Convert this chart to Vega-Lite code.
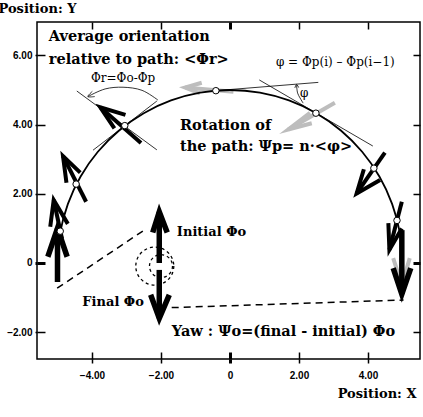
{
  "$schema": "https://vega.github.io/schema/vega-lite/v6.json",
  "width": 383,
  "height": 337,
  "autosize": {"type": "none"},
  "padding": {"left": 37, "top": 22, "right": 3, "bottom": 58},
  "background": "white",
  "config": {
    "view": {"stroke": "black", "strokeWidth": 1.5},
    "axis": {"grid": false, "domain": false, "tickColor": "black", "tickWidth": {"condition": {"test": "datum.value === 0", "value": 3}, "value": 1.5}}
  },
  "datasets": {
    "curve": [
      {"k": 0, "x": -5.0, "y": 0.0},
      {"k": 1, "x": -4.924, "y": 0.868},
      {"k": 2, "x": -4.698, "y": 1.71},
      {"k": 3, "x": -4.33, "y": 2.5},
      {"k": 4, "x": -3.83, "y": 3.214},
      {"k": 5, "x": -3.214, "y": 3.83},
      {"k": 6, "x": -2.5, "y": 4.33},
      {"k": 7, "x": -1.71, "y": 4.698},
      {"k": 8, "x": -0.868, "y": 4.924},
      {"k": 9, "x": 0.0, "y": 5.0},
      {"k": 10, "x": 0.868, "y": 4.924},
      {"k": 11, "x": 1.71, "y": 4.698},
      {"k": 12, "x": 2.5, "y": 4.33},
      {"k": 13, "x": 3.214, "y": 3.83},
      {"k": 14, "x": 3.83, "y": 3.214},
      {"k": 15, "x": 4.33, "y": 2.5},
      {"k": 16, "x": 4.698, "y": 1.71},
      {"k": 17, "x": 4.924, "y": 0.868},
      {"k": 18, "x": 5.0, "y": 0.0}
    ],
    "grayShafts": [
      {"x": -1.3, "y": 5.07, "x2": 0.1, "y2": 4.95},
      {"x": 1.69, "y": 3.86, "x2": 3.04, "y2": 4.63},
      {"x": 4.98, "y": 0.9, "x2": 4.98, "y2": -0.64}
    ],
    "grayHeads": [
      {"id": "G1", "k": 0, "x": -0.82, "y": 5.21}, {"id": "G1", "k": 1, "x": -1.3, "y": 5.07}, {"id": "G1", "k": 2, "x": -0.87, "y": 4.9},
      {"id": "G2", "k": 0, "x": 2.32, "y": 4.34}, {"id": "G2", "k": 1, "x": 1.69, "y": 3.86}, {"id": "G2", "k": 2, "x": 2.37, "y": 4.04},
      {"id": "G3", "k": 0, "x": 4.73, "y": 0.14}, {"id": "G3", "k": 1, "x": 4.98, "y": -0.64}, {"id": "G3", "k": 2, "x": 5.21, "y": 0.14}
    ],
    "medShafts": [
      {"x": -5.11, "y": 1.82, "x2": -4.87, "y2": 0.7},
      {"x": -4.84, "y": 3.09, "x2": -4.17, "y2": 1.77},
      {"x": -3.76, "y": 4.5, "x2": -2.58, "y2": 3.47},
      {"x": 3.67, "y": 2.01, "x2": 4.49, "y2": 3.19},
      {"x": 4.62, "y": 0.38, "x2": 4.98, "y2": 1.77}
    ],
    "medHeads": [
      {"id": "M1", "k": 0, "x": -5.21, "y": 1.05}, {"id": "M1", "k": 1, "x": -5.11, "y": 1.82}, {"id": "M1", "k": 2, "x": -4.7, "y": 1.13},
      {"id": "M2", "k": 0, "x": -4.74, "y": 2.32}, {"id": "M2", "k": 1, "x": -4.84, "y": 3.09}, {"id": "M2", "k": 2, "x": -4.34, "y": 2.61},
      {"id": "M3", "k": 0, "x": -3.03, "y": 4.28}, {"id": "M3", "k": 1, "x": -3.76, "y": 4.5}, {"id": "M3", "k": 2, "x": -3.35, "y": 3.89},
      {"id": "M4", "k": 0, "x": 3.88, "y": 2.71}, {"id": "M4", "k": 1, "x": 3.67, "y": 2.01}, {"id": "M4", "k": 2, "x": 4.35, "y": 2.4},
      {"id": "M5", "k": 0, "x": 4.59, "y": 1.15}, {"id": "M5", "k": 1, "x": 4.62, "y": 0.38}, {"id": "M5", "k": 2, "x": 4.98, "y": 1.0}
    ],
    "bigShafts": [
      {"x": -5.0, "y": -0.55, "x2": -5.0, "y2": 1.0},
      {"x": -2.05, "y": 0.0, "x2": -2.05, "y2": 1.48},
      {"x": -2.05, "y": -0.2, "x2": -2.05, "y2": -1.6},
      {"x": 4.98, "y": 0.95, "x2": 4.98, "y2": -0.9}
    ],
    "bigHeads": [
      {"id": "B1", "k": 0, "x": -5.28, "y": 0.18}, {"id": "B1", "k": 1, "x": -5.0, "y": 1.0}, {"id": "B1", "k": 2, "x": -4.72, "y": 0.18},
      {"id": "B2", "k": 0, "x": -2.24, "y": 0.88}, {"id": "B2", "k": 1, "x": -2.05, "y": 1.48}, {"id": "B2", "k": 2, "x": -1.82, "y": 0.88},
      {"id": "B3", "k": 0, "x": -2.3, "y": -0.92}, {"id": "B3", "k": 1, "x": -2.05, "y": -1.6}, {"id": "B3", "k": 2, "x": -1.76, "y": -0.92},
      {"id": "B4", "k": 0, "x": 4.73, "y": -0.15}, {"id": "B4", "k": 1, "x": 4.98, "y": -0.9}, {"id": "B4", "k": 2, "x": 5.24, "y": -0.15}
    ],
    "thin": [
      {"x": -4.44, "y": 4.97, "x2": -2.12, "y2": 3.27},
      {"x": -3.97, "y": 3.26, "x2": -2.12, "y2": 4.68},
      {"x": -0.41, "y": 4.98, "x2": 2.56, "y2": 5.22},
      {"x": 0.85, "y": 5.29, "x2": 4.14, "y2": 3.38}
    ],
    "arcs": [
      {"id": "a1", "k": 0, "x": -4.12, "y": 4.81}, {"id": "a1", "k": 1, "x": -3.62, "y": 5.03}, {"id": "a1", "k": 2, "x": -3.1, "y": 5.08}, {"id": "a1", "k": 3, "x": -2.55, "y": 4.99}, {"id": "a1", "k": 4, "x": -2.09, "y": 4.71},
      {"id": "a2", "k": 0, "x": 1.93, "y": 5.14}, {"id": "a2", "k": 1, "x": 1.96, "y": 4.91}, {"id": "a2", "k": 2, "x": 2.03, "y": 4.77}, {"id": "a2", "k": 3, "x": 2.12, "y": 4.62},
      {"id": "h1", "k": 0, "x": -3.99, "y": 4.96}, {"id": "h1", "k": 1, "x": -4.12, "y": 4.81}, {"id": "h1", "k": 2, "x": -3.92, "y": 4.81},
      {"id": "h2", "k": 0, "x": 1.88, "y": 5.06}, {"id": "h2", "k": 1, "x": 1.93, "y": 5.16}, {"id": "h2", "k": 2, "x": 1.99, "y": 5.07}
    ],
    "dashed": [
      {"x": -5.01, "y": -0.73, "x2": -2.41, "y2": 1.0},
      {"x": -1.69, "y": -1.29, "x2": 5.03, "y2": -1.07}
    ],
    "points": [
      {"x": -4.92, "y": 0.92}, {"x": -4.46, "y": 2.28}, {"x": -3.05, "y": 3.97}, {"x": -0.41, "y": 4.98},
      {"x": 2.49, "y": 4.33}, {"x": 4.17, "y": 2.74}, {"x": 4.84, "y": 1.23}
    ],
    "rings": [
      {"x": -2.18, "y": -0.09, "r": "outer"},
      {"x": -2.0, "y": -0.09, "r": "inner"}
    ],
    "boldText": [
      {"t": "Average orientation", "x": -5.25, "y": 6.53},
      {"t": "relative to path: <Φr>", "x": -5.25, "y": 5.87},
      {"t": "Rotation of", "x": -1.45, "y": 3.96},
      {"t": "the path: Ψp= n·<φ>", "x": -1.45, "y": 3.35},
      {"t": "Yaw : Ψo=(final - initial) Φo", "x": -1.69, "y": -1.99}
    ],
    "midText": [
      {"t": "Initial Φo", "x": -1.54, "y": 0.9},
      {"t": "Final Φo", "x": -4.28, "y": -1.12}
    ],
    "plainText": [
      {"t": "φ = Φp(i) – Φp(i−1)", "x": 1.33, "y": 5.81},
      {"t": "Φr=Φo-Φp", "x": -4.03, "y": 5.34},
      {"t": "φ", "x": 2.03, "y": 4.91}
    ]
  },
  "resolve": {"axis": {"x": "independent", "y": "independent"}},
  "layer": [
    {
      "data": {"name": "grayShafts"},
      "mark": {"type": "rule", "color": "#bdbdbd", "strokeWidth": 4},
      "encoding": {
        "x": {"field": "x", "type": "quantitative", "scale": {"domain": [-5.594, 5.507], "nice": false, "zero": false},
          "axis": {"orient": "top", "labels": false, "tickSize": -7, "title": null, "values": [-4, -2, 0, 2, 4]}},
        "y": {"field": "y", "type": "quantitative", "scale": {"domain": [-2.775, 6.965], "nice": false, "zero": false},
          "axis": {"orient": "right", "labels": false, "tickSize": -7, "title": null, "values": [-2, 0, 2, 4, 6]}},
        "x2": {"field": "x2"}, "y2": {"field": "y2"}
      }
    },
    {
      "data": {"name": "grayHeads"},
      "mark": {"type": "line", "color": "#bdbdbd", "strokeWidth": 4, "strokeJoin": "miter", "strokeMiterLimit": 10},
      "encoding": {
        "x": {"field": "x", "type": "quantitative", "scale": {"domain": [-5.594, 5.507], "nice": false, "zero": false},
          "axis": {"orient": "bottom", "labels": false, "tickSize": -7, "title": null, "values": [-4, -2, 0, 2, 4]}},
        "y": {"field": "y", "type": "quantitative", "scale": {"domain": [-2.775, 6.965], "nice": false, "zero": false},
          "axis": {"orient": "left", "labels": false, "tickSize": -8, "title": null, "values": [-2, 0, 2, 4, 6]}},
        "detail": {"field": "id"}, "order": {"field": "k"}
      }
    },
    {
      "data": {"name": "thin"},
      "mark": {"type": "rule", "color": "black", "strokeWidth": 0.8},
      "encoding": {
        "x": {"field": "x", "type": "quantitative", "scale": {"domain": [-5.594, 5.507], "nice": false, "zero": false},
          "axis": {"orient": "bottom", "values": [-4, -2, 0, 2, 4], "labelExpr": "datum.value === 0 ? '0' : format(datum.value, '.2f')",
            "labelFont": "Liberation Sans", "labelFontWeight": "bold", "labelFontSize": 10, "labelColor": "black", "tickSize": 4, "labelPadding": 7,
            "title": "Position: X", "titleFont": "DejaVu Serif", "titleFontWeight": "bold", "titleFontSize": 13, "titleColor": "black",
            "titleAnchor": null, "titleAlign": "right", "titleBaseline": "middle", "titleX": 379, "titleY": 34}},
        "y": {"field": "y", "type": "quantitative", "scale": {"domain": [-2.775, 6.965], "nice": false, "zero": false},
          "axis": {"orient": "left", "values": [-2, 0, 2, 4, 6], "labelExpr": "datum.value === 0 ? '0' : format(datum.value, '.2f')",
            "labelFont": "Liberation Sans", "labelFontWeight": "bold", "labelFontSize": 10, "labelColor": "black", "tickSize": 2, "labelPadding": 3,
            "title": "Position: Y", "titleFont": "DejaVu Serif", "titleFontWeight": "bold", "titleFontSize": 13, "titleColor": "black",
            "titleAngle": 0, "titleAnchor": null, "titleAlign": "left", "titleBaseline": "middle", "titleX": -39, "titleY": -14}},
        "x2": {"field": "x2"}, "y2": {"field": "y2"}
      }
    },
    {
      "data": {"name": "arcs"},
      "mark": {"type": "line", "color": "black", "strokeWidth": 0.8, "interpolate": "catmull-rom"},
      "encoding": {
        "x": {"field": "x", "type": "quantitative", "scale": {"domain": [-5.594, 5.507], "nice": false, "zero": false}, "axis": null},
        "y": {"field": "y", "type": "quantitative", "scale": {"domain": [-2.775, 6.965], "nice": false, "zero": false}, "axis": null},
        "detail": {"field": "id"}, "order": {"field": "k"}
      }
    },
    {
      "data": {"name": "dashed"},
      "mark": {"type": "rule", "color": "black", "strokeWidth": 1.5, "strokeDash": [7, 5]},
      "encoding": {
        "x": {"field": "x", "type": "quantitative", "scale": {"domain": [-5.594, 5.507], "nice": false, "zero": false}, "axis": null},
        "y": {"field": "y", "type": "quantitative", "scale": {"domain": [-2.775, 6.965], "nice": false, "zero": false}, "axis": null},
        "x2": {"field": "x2"}, "y2": {"field": "y2"}
      }
    },
    {
      "data": {"name": "rings"},
      "transform": [{"filter": "datum.r === 'outer'"}],
      "mark": {"type": "point", "shape": "circle", "size": 1444, "filled": false, "color": "black", "strokeWidth": 1.3, "strokeDash": [3, 3], "opacity": 1},
      "encoding": {
        "x": {"field": "x", "type": "quantitative", "scale": {"domain": [-5.594, 5.507], "nice": false, "zero": false}, "axis": null},
        "y": {"field": "y", "type": "quantitative", "scale": {"domain": [-2.775, 6.965], "nice": false, "zero": false}, "axis": null}
      }
    },
    {
      "data": {"name": "rings"},
      "transform": [{"filter": "datum.r === 'inner'"}],
      "mark": {"type": "point", "shape": "circle", "size": 529, "filled": false, "color": "black", "strokeWidth": 1.3, "strokeDash": [3, 3], "opacity": 1},
      "encoding": {
        "x": {"field": "x", "type": "quantitative", "scale": {"domain": [-5.594, 5.507], "nice": false, "zero": false}, "axis": null},
        "y": {"field": "y", "type": "quantitative", "scale": {"domain": [-2.775, 6.965], "nice": false, "zero": false}, "axis": null}
      }
    },
    {
      "data": {"name": "curve"},
      "mark": {"type": "line", "color": "black", "strokeWidth": 1.8, "interpolate": "catmull-rom"},
      "encoding": {
        "x": {"field": "x", "type": "quantitative", "scale": {"domain": [-5.594, 5.507], "nice": false, "zero": false}, "axis": null},
        "y": {"field": "y", "type": "quantitative", "scale": {"domain": [-2.775, 6.965], "nice": false, "zero": false}, "axis": null},
        "order": {"field": "k"}
      }
    },
    {
      "data": {"name": "medShafts"},
      "mark": {"type": "rule", "color": "black", "strokeWidth": 4},
      "encoding": {
        "x": {"field": "x", "type": "quantitative", "scale": {"domain": [-5.594, 5.507], "nice": false, "zero": false}, "axis": null},
        "y": {"field": "y", "type": "quantitative", "scale": {"domain": [-2.775, 6.965], "nice": false, "zero": false}, "axis": null},
        "x2": {"field": "x2"}, "y2": {"field": "y2"}
      }
    },
    {
      "data": {"name": "medHeads"},
      "mark": {"type": "line", "color": "black", "strokeWidth": 4, "strokeJoin": "miter", "strokeMiterLimit": 10},
      "encoding": {
        "x": {"field": "x", "type": "quantitative", "scale": {"domain": [-5.594, 5.507], "nice": false, "zero": false}, "axis": null},
        "y": {"field": "y", "type": "quantitative", "scale": {"domain": [-2.775, 6.965], "nice": false, "zero": false}, "axis": null},
        "detail": {"field": "id"}, "order": {"field": "k"}
      }
    },
    {
      "data": {"name": "bigShafts"},
      "mark": {"type": "rule", "color": "black", "strokeWidth": 5.5},
      "encoding": {
        "x": {"field": "x", "type": "quantitative", "scale": {"domain": [-5.594, 5.507], "nice": false, "zero": false}, "axis": null},
        "y": {"field": "y", "type": "quantitative", "scale": {"domain": [-2.775, 6.965], "nice": false, "zero": false}, "axis": null},
        "x2": {"field": "x2"}, "y2": {"field": "y2"}
      }
    },
    {
      "data": {"name": "bigHeads"},
      "mark": {"type": "line", "color": "black", "strokeWidth": 5.5, "strokeJoin": "miter", "strokeMiterLimit": 10},
      "encoding": {
        "x": {"field": "x", "type": "quantitative", "scale": {"domain": [-5.594, 5.507], "nice": false, "zero": false}, "axis": null},
        "y": {"field": "y", "type": "quantitative", "scale": {"domain": [-2.775, 6.965], "nice": false, "zero": false}, "axis": null},
        "detail": {"field": "id"}, "order": {"field": "k"}
      }
    },
    {
      "data": {"name": "points"},
      "mark": {"type": "point", "shape": "circle", "size": 42, "filled": true, "fill": "white", "stroke": "black", "strokeWidth": 1, "opacity": 1},
      "encoding": {
        "x": {"field": "x", "type": "quantitative", "scale": {"domain": [-5.594, 5.507], "nice": false, "zero": false}, "axis": null},
        "y": {"field": "y", "type": "quantitative", "scale": {"domain": [-2.775, 6.965], "nice": false, "zero": false}, "axis": null}
      }
    },
    {
      "data": {"name": "boldText"},
      "mark": {"type": "text", "font": "DejaVu Serif", "fontWeight": "bold", "fontSize": 14.5, "align": "left", "baseline": "middle", "color": "black"},
      "encoding": {
        "x": {"field": "x", "type": "quantitative", "scale": {"domain": [-5.594, 5.507], "nice": false, "zero": false}, "axis": null},
        "y": {"field": "y", "type": "quantitative", "scale": {"domain": [-2.775, 6.965], "nice": false, "zero": false}, "axis": null},
        "text": {"field": "t"}
      }
    },
    {
      "data": {"name": "midText"},
      "mark": {"type": "text", "font": "DejaVu Serif", "fontWeight": "bold", "fontSize": 13, "align": "left", "baseline": "middle", "color": "black"},
      "encoding": {
        "x": {"field": "x", "type": "quantitative", "scale": {"domain": [-5.594, 5.507], "nice": false, "zero": false}, "axis": null},
        "y": {"field": "y", "type": "quantitative", "scale": {"domain": [-2.775, 6.965], "nice": false, "zero": false}, "axis": null},
        "text": {"field": "t"}
      }
    },
    {
      "data": {"name": "plainText"},
      "mark": {"type": "text", "font": "DejaVu Serif", "fontSize": 12, "align": "left", "baseline": "middle", "color": "black"},
      "encoding": {
        "x": {"field": "x", "type": "quantitative", "scale": {"domain": [-5.594, 5.507], "nice": false, "zero": false}, "axis": null},
        "y": {"field": "y", "type": "quantitative", "scale": {"domain": [-2.775, 6.965], "nice": false, "zero": false}, "axis": null},
        "text": {"field": "t"}
      }
    }
  ]
}
